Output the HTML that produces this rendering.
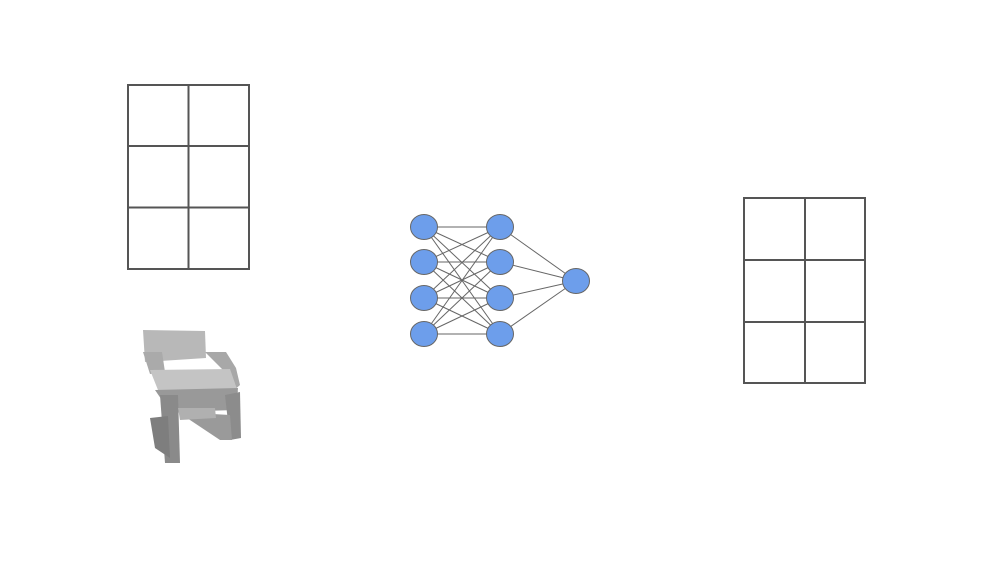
<!DOCTYPE html>
<html><head><meta charset="utf-8"><style>
html,body{margin:0;padding:0;background:#fff;width:1000px;height:562px;overflow:hidden;font-family:"Liberation Sans",sans-serif}
</style></head><body>
<svg width="1000" height="562" viewBox="0 0 1000 562">
<g fill="none" stroke="#555" stroke-width="2">
<rect x="128" y="85" width="121" height="184"/>
<line x1="188.5" y1="85" x2="188.5" y2="269"/>
<line x1="128" y1="146" x2="249" y2="146"/>
<line x1="128" y1="207.5" x2="249" y2="207.5"/>
</g>
<g fill="none" stroke="#555" stroke-width="2">
<rect x="744" y="198" width="121" height="185"/>
<line x1="805" y1="198" x2="805" y2="383"/>
<line x1="744" y1="260" x2="865" y2="260"/>
<line x1="744" y1="322" x2="865" y2="322"/>
</g>
<g>
<polygon points="143,330 205,331 206,358 145,362" fill="#b8b8b8"/>
<polygon points="143,352 162,352 165,372 150,374" fill="#aaa"/>
<polygon points="205,352 226,352 236,368 240,385 232,392 225,372" fill="#a8a8a8"/>
<polygon points="150,370 230,369 238,392 160,395" fill="#c4c4c4"/>
<polygon points="155,390 238,388 236,410 170,412" fill="#999"/>
<polygon points="160,395 178,395 180,463 165,463" fill="#8a8a8a"/>
<polygon points="225,395 240,392 241,438 230,440" fill="#8c8c8c"/>
<polygon points="150,418 168,416 170,458 155,448" fill="#7e7e7e"/>
<polygon points="178,412 230,415 232,440 220,440 190,420" fill="#9a9a9a"/>
<polygon points="178,408 215,408 216,418 180,420" fill="#b0b0b0"/>
</g>
<g stroke="#666" stroke-width="1" id="edges"></g>
<g fill="#6d9eeb" stroke="#666" stroke-width="1" id="nodes"></g>
</svg>
<script>
const layer1Y=[227,262,298,334];
const layer2Y=[227,262,298,334];
const outY=[281];
const xs=[424,500,576];
const ns='http://www.w3.org/2000/svg';
const E=document.getElementById('edges'),N=document.getElementById('nodes');
function line(x1,y1,x2,y2){const l=document.createElementNS(ns,'line');
l.setAttribute('x1',x1);l.setAttribute('y1',y1);l.setAttribute('x2',x2);l.setAttribute('y2',y2);


E.appendChild(l);}
layer1Y.forEach(a=>layer2Y.forEach(b=>line(xs[0],a,xs[1],b)));
layer2Y.forEach(a=>outY.forEach(b=>line(xs[1],a,xs[2],b)));
function node(x,y){const c=document.createElementNS(ns,'ellipse');
c.setAttribute('cx',x);c.setAttribute('cy',y);c.setAttribute('rx',13.5);c.setAttribute('ry',12.5);


N.appendChild(c);}
layer1Y.forEach(y=>node(xs[0],y));layer2Y.forEach(y=>node(xs[1],y));outY.forEach(y=>node(xs[2],y));
</script>
</body></html>
